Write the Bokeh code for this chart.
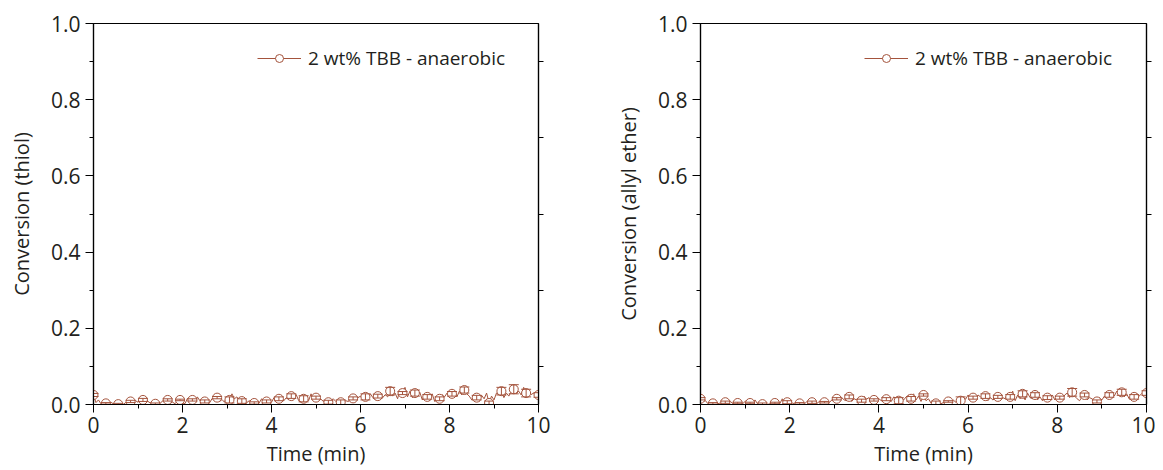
from bokeh.plotting import figure
from bokeh.layouts import row
from bokeh.models import (ColumnDataSource, Range1d, FixedTicker, LinearAxis, Whisker,
                          TeeHead, Legend, LegendItem)
from bokeh.embed import file_html
from bokeh.resources import INLINE

N_POINTS = 181
T_END = 10.0
time = [round(i * T_END / (N_POINTS - 1), 4) for i in range(N_POINTS)]
MARK_EVERY = 5

thiol = [
    0.025, 0.005, 0.012, 0.002, 0.008, 0.003, 0.001, 0.006, 0.002, 0.004,
    0.001, 0.003, 0.000, 0.005, 0.006, 0.008, 0.004, 0.010, 0.006, 0.015,
    0.012, 0.020, 0.008, 0.004, 0.009, 0.002, 0.006, 0.003, 0.010, 0.012,
    0.012, 0.004, 0.006, 0.002, 0.010, 0.012, 0.004, 0.002, 0.016, 0.008,
    0.012, 0.006, 0.020, 0.010, 0.014, 0.008, 0.012, 0.005, 0.016, 0.010,
    0.018, 0.008, 0.013, 0.006, 0.022, 0.012, 0.028, 0.015, 0.020, 0.010,
    0.009, 0.012, 0.005, 0.010, 0.006, 0.004, 0.008, 0.004, 0.015, 0.010,
    0.008, 0.012, 0.006, 0.018, 0.010, 0.015, 0.020, 0.010, 0.018, 0.012,
    0.022, 0.015, 0.026, 0.010, 0.006, 0.015, 0.020, 0.010, 0.028, 0.012,
    0.018, 0.010, 0.014, 0.008, 0.012, 0.006, 0.010, 0.015, 0.008, 0.010,
    0.006, 0.004, 0.010, 0.008, 0.012, 0.016, 0.010, 0.018, 0.022, 0.012,
    0.020, 0.015, 0.028, 0.018, 0.012, 0.022, 0.030, 0.018, 0.026, 0.020,
    0.035, 0.022, 0.030, 0.015, 0.040, 0.030, 0.045, 0.020, 0.035, 0.018,
    0.030, 0.025, 0.032, 0.012, 0.025, 0.020, 0.010, 0.028, 0.008, 0.022,
    0.015, 0.026, 0.020, 0.030, 0.022, 0.028, 0.032, 0.020, 0.035, 0.025,
    0.038, 0.028, 0.022, 0.012, 0.026, 0.018, 0.008, 0.024, 0.015, 0.030,
    0.004, 0.022, 0.012, 0.030, 0.025, 0.035, 0.018, 0.030, 0.022, 0.035,
    0.040, 0.028, 0.035, 0.025, 0.045, 0.030, 0.038, 0.026, 0.030, 0.022,
    0.025,
]
thiol_err = [
    0.004, 0.002, 0.002, 0.003, 0.004, 0.002, 0.003, 0.002, 0.003, 0.004,
    0.003, 0.008, 0.006, 0.003, 0.004, 0.005, 0.006, 0.008, 0.004, 0.005,
    0.006, 0.004, 0.008, 0.005, 0.010, 0.004, 0.008, 0.006, 0.005, 0.006,
    0.008, 0.006, 0.005, 0.010, 0.012, 0.010, 0.006,
]

allyl = [
    0.015, 0.008, 0.010, 0.002, 0.006, 0.003, 0.008, 0.002, 0.004, 0.001,
    0.006, 0.004, 0.008, 0.003, 0.010, 0.004, 0.006, 0.002, 0.008, 0.012,
    0.004, 0.001, 0.012, 0.002, 0.006, 0.001, 0.003, 0.000, 0.002, 0.003,
    0.004, 0.010, 0.002, 0.015, 0.003, 0.006, 0.001, 0.004, 0.002, 0.006,
    0.003, 0.005, 0.002, 0.008, 0.004, 0.006, 0.010, 0.003, 0.008, 0.012,
    0.006, 0.010, 0.005, 0.012, 0.008, 0.015, 0.010, 0.018, 0.012, 0.010,
    0.020, 0.008, 0.015, 0.012, 0.020, 0.010, 0.022, 0.014, 0.018, 0.010,
    0.012, 0.020, 0.015, 0.010, 0.018, 0.014, 0.012, 0.008, 0.020, 0.015,
    0.010, 0.018, 0.012, 0.020, 0.025, 0.015, 0.028, 0.012, 0.022, 0.008,
    0.025, 0.010, 0.015, 0.004, 0.008, 0.003, 0.006, 0.002, 0.005, 0.003,
    0.008, 0.004, 0.012, 0.006, 0.015, 0.010, 0.020, 0.014, 0.025, 0.012,
    0.018, 0.010, 0.025, 0.020, 0.015, 0.022, 0.010, 0.018, 0.012, 0.016,
    0.020, 0.012, 0.018, 0.015, 0.030, 0.020, 0.035, 0.010, 0.025, 0.015,
    0.028, 0.012, 0.030, 0.018, 0.015, 0.025, 0.012, 0.020, 0.010, 0.022,
    0.018, 0.015, 0.025, 0.012, 0.020, 0.018, 0.015, 0.025, 0.030, 0.018,
    0.032, 0.022, 0.015, 0.010, 0.020, 0.025, 0.012, 0.018, 0.015, 0.010,
    0.008, 0.018, 0.012, 0.022, 0.015, 0.025, 0.030, 0.022, 0.035, 0.028,
    0.032, 0.020, 0.028, 0.015, 0.025, 0.020, 0.030, 0.022, 0.028, 0.030,
    0.030,
]
allyl_err = [
    0.003, 0.002, 0.003, 0.002, 0.002, 0.003, 0.002, 0.004, 0.002, 0.003,
    0.002, 0.003, 0.005, 0.004, 0.003, 0.004, 0.008, 0.006, 0.003, 0.006,
    0.002, 0.010, 0.004, 0.006, 0.004, 0.006, 0.008, 0.006, 0.005, 0.004,
    0.010, 0.005, 0.004, 0.006, 0.008, 0.006, 0.006,
]

x_ticks = [0, 2, 4, 6, 8, 10]
x_minor = [1, 3, 5, 7, 9]
y_ticks = [0.0, 0.2, 0.4, 0.6, 0.8, 1.0]
y_minor = [0.1, 0.3, 0.5, 0.7, 0.9]

series_label = "2 wt% TBB - anaerobic"
COLOR = "#A4533C"
FONT = "Open Sans"
TICK_FS = "21px"
LABEL_FS = "20px"
TEXT_COLOR = "#231F20"


def make_panel(values, errors, ylabel, left_border, right_border, fw):
    p = figure(frame_width=fw, frame_height=381, output_backend="svg", toolbar_location=None,
               x_range=Range1d(0, 10), y_range=Range1d(0, 1.0),
               min_border_left=left_border, min_border_right=right_border,
               min_border_top=23, min_border_bottom=58)
    p.grid.visible = False
    p.outline_line_color = "black"
    p.outline_line_width = 1.2
    p.background_fill_color = "white"
    p.border_fill_color = "white"

    src = ColumnDataSource(dict(t=time, v=values))
    mt = time[::MARK_EVERY]
    mv = values[::MARK_EVERY]
    msrc = ColumnDataSource(dict(t=mt, v=mv,
                                 lo=[a - b for a, b in zip(mv, errors)],
                                 hi=[a + b for a, b in zip(mv, errors)]))

    line = p.line("t", "v", source=src, line_color=COLOR, line_width=1)
    w = Whisker(source=msrc, base="t", lower="lo", upper="hi", dimension="height",
                line_color=COLOR, line_width=1,
                upper_head=TeeHead(size=10, line_color=COLOR, line_width=1),
                lower_head=TeeHead(size=10, line_color=COLOR, line_width=1))
    w.level = "glyph"
    p.add_layout(w)
    circ = p.scatter("t", "v", source=msrc, marker="circle", size=9,
                     line_color=COLOR, fill_color="white", line_width=1)

    for ax in (p.xaxis[0], p.yaxis[0]):
        ax.axis_line_color = "black"
        ax.axis_line_width = 1.2
        ax.major_tick_line_color = "black"
        ax.minor_tick_line_color = "black"
        ax.major_tick_out = 8
        ax.major_tick_in = 0
        ax.minor_tick_out = 4
        ax.minor_tick_in = 0
        ax.major_label_text_font = FONT
        ax.major_label_text_font_size = TICK_FS
        ax.major_label_text_color = TEXT_COLOR
        ax.axis_label_text_font = FONT
        ax.axis_label_text_font_size = LABEL_FS
        ax.axis_label_text_font_style = "normal"
        ax.axis_label_text_color = TEXT_COLOR

    p.xaxis.ticker = FixedTicker(ticks=x_ticks, minor_ticks=x_minor)
    p.yaxis.ticker = FixedTicker(ticks=y_ticks, minor_ticks=y_minor)
    p.yaxis.major_label_overrides = {t: f"{t:.1f}" for t in y_ticks}
    p.xaxis.major_label_overrides = {t: str(t) for t in x_ticks}
    p.xaxis.axis_label = "Time (min)"
    p.yaxis.axis_label = ylabel
    p.xaxis.major_label_standoff = 4
    p.xaxis.axis_label_standoff = 4
    p.yaxis.major_label_standoff = 5
    p.yaxis.axis_label_standoff = 13

    rax = LinearAxis(ticker=FixedTicker(ticks=[], minor_ticks=y_minor))
    rax.axis_line_color = "black"
    rax.axis_line_width = 1.2
    rax.minor_tick_out = 5
    rax.minor_tick_in = 0
    rax.minor_tick_line_color = "black"
    p.add_layout(rax, "right")

    legend = Legend(items=[LegendItem(label=series_label, renderers=[line, circ])],
                    location=(164, 333), glyph_width=44, glyph_height=20,
                    label_standoff=7, padding=0, margin=0, spacing=0,
                    border_line_color=None, background_fill_alpha=0,
                    label_text_font=FONT, label_text_font_size="19px",
                    label_text_color=TEXT_COLOR)
    p.add_layout(legend)
    return p


p1 = make_panel(thiol, thiol_err, "Conversion (thiol)", 93, 72, 445)
p2 = make_panel(allyl, allyl_err, "Conversion (allyl ether)", 90, 9, 446)

layout = row(p1, p2, spacing=0)
open("out.html", "w").write(file_html(layout, INLINE))
